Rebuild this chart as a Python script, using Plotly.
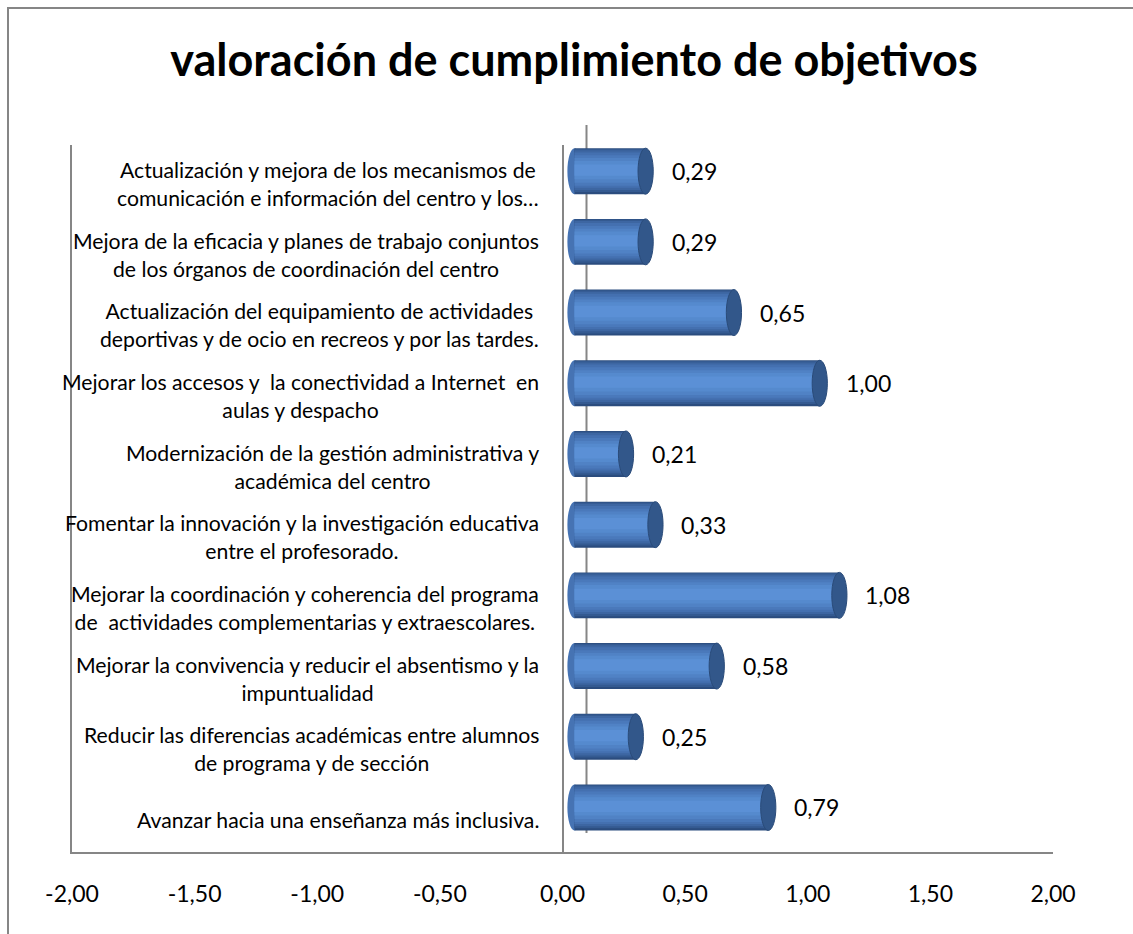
import plotly.graph_objects as go

# data, listed top to bottom as in the chart
objetivos = [
    "Actualización y mejora de los mecanismos de<br>comunicación e información del centro y los…",
    "Mejora de la eficacia y planes de trabajo conjuntos<br>de los órganos de coordinación del centro",
    "Actualización del equipamiento de actividades<br>deportivas y de ocio en recreos y por las tardes.",
    "Mejorar los accesos y  la conectividad a Internet  en<br>aulas y despacho",
    "Modernización de la gestión administrativa y<br>académica del centro",
    "Fomentar la innovación y la investigación educativa<br>entre el profesorado.",
    "Mejorar la coordinación y coherencia del programa<br>de  actividades complementarias y extraescolares.",
    "Mejorar la convivencia y reducir el absentismo y la<br>impuntualidad",
    "Reducir las diferencias académicas entre alumnos<br>de programa y de sección",
    "Avanzar hacia una enseñanza más inclusiva.",
]
valores = [0.29, 0.29, 0.65, 1.00, 0.21, 0.33, 1.08, 0.58, 0.25, 0.79]
ticks = [-2.0, -1.5, -1.0, -0.5, 0.0, 0.5, 1.0, 1.5, 2.0]
tick_text = ["-2,00", "-1,50", "-1,00", "-0,50", "0,00", "0,50", "1,00", "1,50", "2,00"]

# plotly draws categories bottom-up
cats = objetivos[::-1]
vals = valores[::-1]
n = len(cats)

FONT = "Lato"
W, H = 1133, 934

# the 3d depth pushes the cylinders a bit right and up
depth_x = 12 / 245
lift = 0.13

fig = go.Figure()

# fake cylinder: stacked overlay bars, darker at the edges, lighter near the middle
layers = [
    (0.65, 0.00, "#2b4c7e"),
    (0.61, 0.03, "#345a91"),
    (0.56, 0.06, "#3d66a2"),
    (0.50, 0.09, "#4470b0"),
    (0.43, 0.12, "#4a79bb"),
    (0.35, 0.16, "#5082c5"),
    (0.26, 0.21, "#558ace"),
    (0.16, 0.26, "#5b90d6"),
]
for w, dy, col in layers:
    fig.add_trace(go.Bar(
        y=list(range(n)), x=vals, base=depth_x, orientation="h",
        width=w, offset=-0.325 + lift + dy,
        marker=dict(color=col, line=dict(width=0)),
        hoverinfo="skip", showlegend=False,
    ))

shapes = []
annotations = []
for i, v in enumerate(vals):
    y0, y1 = i - 0.325 + lift, i + 0.325 + lift
    # rounded back end of the cylinder
    shapes.append(dict(type="circle", xref="x", yref="y",
                       x0=depth_x - 0.029, x1=depth_x + 0.029, y0=y0, y1=y1,
                       fillcolor="#4673b3", line=dict(width=0), layer="below"))
    # end cap of the cylinder
    shapes.append(dict(type="circle", xref="x", yref="y",
                       x0=depth_x + v - 0.031, x1=depth_x + v + 0.031,
                       y0=y0, y1=y1,
                       fillcolor="#32578a", line=dict(color="#2a4b79", width=1),
                       layer="above"))
    # value label
    annotations.append(dict(x=depth_x + v, y=i + lift, xref="x", yref="y",
                            text=f"{v:.2f}".replace(".", ","), showarrow=False,
                            xanchor="left", xshift=24,
                            font=dict(family=FONT, size=23, color="black")))
    # category label on the left
    annotations.append(dict(x=0, y=i - 0.05, xref="x", yref="y", text=cats[i],
                            showarrow=False, xanchor="right", xshift=-22,
                            align="center",
                            font=dict(family=FONT, size=21.2, color="black")))

# outer chart border
shapes.append(dict(type="rect", xref="paper", yref="paper",
                   x0=8 / W, x1=1.02, y0=-0.02, y1=1 - 8 / H,
                   line=dict(color="#868686", width=2), layer="below"))
# back wall line of the 3d category axis
shapes.append(dict(type="line", xref="x", xsizemode="pixel", xanchor=0,
                   x0=24, x1=24, yref="paper",
                   y0=(H - 833) / H, y1=(H - 125) / H,
                   line=dict(color="#868686", width=2), layer="below"))

fig.update_layout(
    width=W, height=H,
    margin=dict(l=0, r=0, t=0, b=0),
    paper_bgcolor="white", plot_bgcolor="white",
    barmode="overlay",
    title=dict(text="<b>valoración de cumplimiento de objetivos</b>",
               x=574 / W, xanchor="center", y=1 - 60 / H, yanchor="middle",
               font=dict(family=FONT, size=45, color="black")),
    xaxis=dict(domain=[72 / W, 1053 / W], range=[-2, 2], automargin=False,
               tickvals=ticks, ticktext=tick_text, showgrid=False,
               showline=True, linecolor="#868686", linewidth=2,
               zeroline=True, zerolinecolor="#868686", zerolinewidth=2,
               ticks="", ticklabelstandoff=20,
               tickfont=dict(family=FONT, size=23, color="black")),
    yaxis=dict(domain=[(H - 852) / H, (H - 145) / H], range=[-0.5, n - 0.5],
               automargin=False, showticklabels=False, showgrid=False,
               zeroline=False, showline=True, linecolor="#868686",
               linewidth=2, ticks=""),
    shapes=shapes,
    annotations=annotations,
)

# drop the default body margin so the figure sits at the page corner
fig.write_html("out.html", config={"displayModeBar": False},
               post_script="document.body.style.margin='0';")
